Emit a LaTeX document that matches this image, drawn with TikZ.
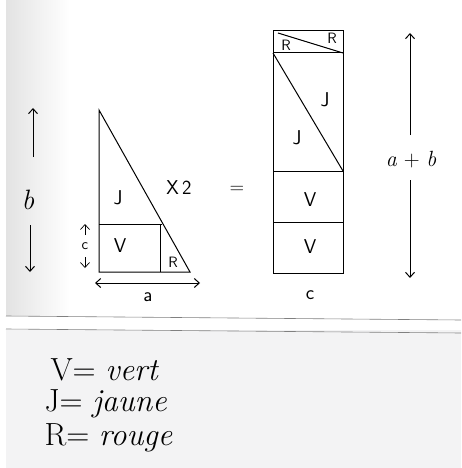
\documentclass[tikz,border=0pt]{standalone}
\usetikzlibrary{arrows.meta}
\begin{document}
\begin{tikzpicture}[x=1pt,y=-1pt,line width=1pt,
  >={Straight Barb[length=5pt,width=9pt]},
  lbl/.style={font=\sffamily\fontsize{20}{20}\selectfont},
  sml/.style={font=\sffamily\fontsize{15}{15}\selectfont},
  hand/.style={font=\itshape\fontsize{28}{28}\selectfont},
  leg/.style={anchor=west,inner sep=0pt,font=\fontsize{32}{34}\selectfont}]
\useasboundingbox (0,0) rectangle (461,468);
\fill[white] (0,0) rectangle (461,468);
\fill[left color=gray!22,right color=white] (6,0) rectangle (70,315);
\fill[blue!4!gray!9] (6,330) rectangle (461,468);
\draw[gray,line width=0.6pt] (6,316) -- (461,320);
\draw[gray,line width=0.6pt] (6,329) -- (461,333);

% triangle a b c
\coordinate (t1) at (99,110);
\coordinate (t2) at (99,272);
\coordinate (t3) at (190,272);
\draw (t1) -- (t2) -- (t3) -- cycle;
\draw (99,224) -- (162,224);
\draw (160,224) -- (160,272);
\node[lbl] (j1) at (118,198) {J};
\node[lbl] (v1) at (120,246) {V};
\node[sml] (r1) at (173,262) {R};
\node[lbl] (x2) at (179,188) {X\,2};
\node[lbl] (eq) at (237,190) {=};

% arrows b, c, a
\coordinate (bu1) at (33,157);
\coordinate (bu2) at (33,108);
\coordinate (bd1) at (30,225);
\coordinate (bd2) at (30,272);
\draw[->] (bu1) -- (bu2);
\draw[->] (bd1) -- (bd2);
\node[hand] (b) at (28,200) {b};
\coordinate (cu1) at (85,235);
\coordinate (cu2) at (85,224);
\coordinate (cd1) at (85,257);
\coordinate (cd2) at (85,268);
\draw[->,line width=0.7pt] (cu1) -- (cu2);
\draw[->,line width=0.7pt] (cd1) -- (cd2);
\node[sml] (c1) at (85,246) {c};
\coordinate (al) at (95,283);
\coordinate (ar) at (200,283);
\draw[<->] (al) -- (ar);
\node[lbl] (a1) at (148,297) {a};

% rectangle c x (a+b)
\draw (273,31) rectangle (343,273);
\draw (273,53) -- (343,53);
\draw (273,171) -- (343,171);
\draw (273,222) -- (343,222);
\draw (273,53) -- (343,171);
\draw (278,33) -- (343,53);
\node[sml] (r2) at (286,45) {R};
\node[sml] (r3) at (332,38) {R};
\node[lbl] (j2) at (325,100) {J};
\node[lbl] (j3) at (297,138) {J};
\node[lbl] (v2) at (310,200) {V};
\node[lbl] (v3) at (310,247) {V};
\node[lbl] (c2) at (310,295) {c};
\coordinate (su1) at (410,135);
\coordinate (su2) at (410,33);
\coordinate (sd1) at (410,180);
\coordinate (sd2) at (410,278);
\draw[->] (su1) -- (su2);
\draw[->] (sd1) -- (sd2);
\node[font=\fontsize{22}{22}\selectfont] (ab) at (411,160) {\textit{a} + \textit{b}};

% legend
\node[leg] (lv) at (50,370) {V= \textit{vert}};
\node[leg] (lj) at (44,404) {J= \textit{jaune}};
\node[leg] (lr) at (44,438) {R= \textit{rouge}};
\end{tikzpicture}
\end{document}
